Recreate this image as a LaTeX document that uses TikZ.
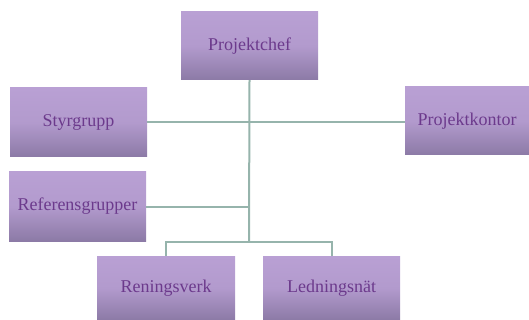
\documentclass[tikz,border=0pt]{standalone}
\usepackage{fontspec}
\setmainfont{Liberation Serif}
\usetikzlibrary{positioning, calc}
\definecolor{boxtop}{RGB}{185, 160, 212}
\definecolor{boxbot}{RGB}{140, 122, 166}
\definecolor{boxtext}{RGB}{108, 58, 140}
\definecolor{linkcol}{RGB}{150, 180, 172}

\begin{document}
\begin{tikzpicture}[x=1pt, y=-1pt,
  orgbox/.style={rectangle, top color=boxtop, bottom color=boxbot, middle color=boxtop!85!boxbot,
    minimum width=137pt, minimum height=68pt, inner sep=2pt, text=boxtext,
    font=\fontsize{18}{20}\selectfont},
  link/.style={draw=linkcol, line width=2pt}
]
  \useasboundingbox (0,0) rectangle (529,320);
  % boxes
  \node[orgbox] (chef) at (249.5, 46) {Projektchef};
  \node[orgbox, minimum height=69pt] (styr) at (78.5, 122.5) {Styrgrupp};
  \node[orgbox, minimum height=69pt] (ref) at (77.5, 206.5) {Referensgrupper};
  \node[orgbox, minimum width=124pt] (kontor) at (467, 121) {Projektkontor};
  \node[orgbox, minimum width=138pt, minimum height=64pt] (ren) at (166, 288) {Reningsverk};
  \node[orgbox, minimum height=64pt] (led) at (331.5, 288) {Ledningsnät};
  \coordinate (bus) at (249, 242);
  % connectors
  \draw[link] (chef.south) -- (bus);
  \draw[link] (styr.east) -- (styr.east -| kontor.west);
  \draw[link] (ref.east) -- (ref.east -| bus);
  \draw[link] (ren.north) |- (bus) -| (led.north);
\end{tikzpicture}
\end{document}
